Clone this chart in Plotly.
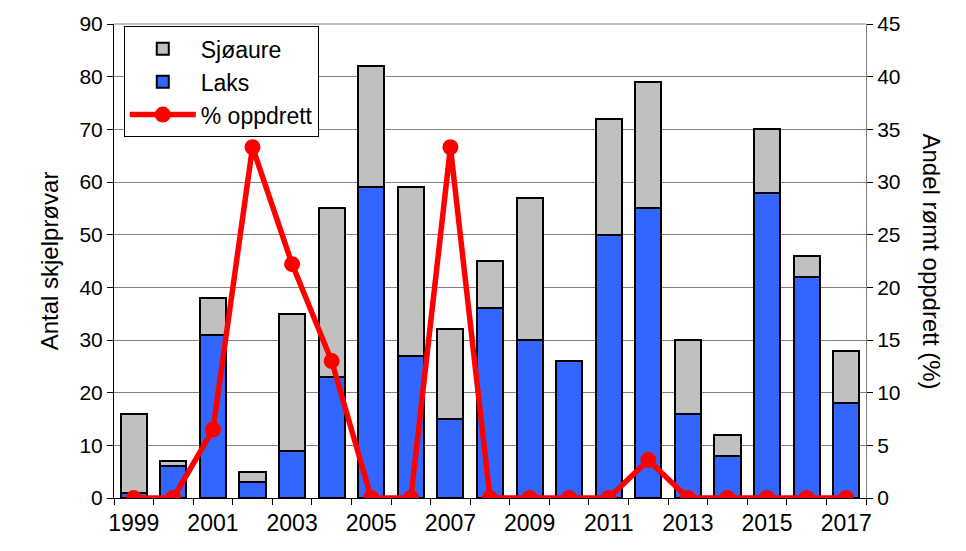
import plotly.graph_objects as go

years = list(range(1999, 2018))
laks = [1, 6, 31, 3, 9, 23, 59, 27, 15, 36, 30, 26, 50, 55, 16, 8, 58, 42, 18]
total = [16, 7, 38, 5, 35, 55, 82, 59, 32, 45, 57, 26, 72, 79, 30, 12, 70, 46, 28]
sjoaure = [t - l for t, l in zip(total, laks)]
oppdrett = [0, 0, 6.5, 33.3, 22.2, 13.0, 0, 0, 33.3, 0, 0, 0, 0, 3.6, 0, 0, 0, 0, 0]
xticks = list(range(1999, 2018, 2))
y1ticks = list(range(0, 91, 10))
y2ticks = list(range(0, 46, 5))

FONT = "Liberation Sans, Arial, sans-serif"

fig = go.Figure()
fig.add_trace(go.Bar(x=years, y=laks, name="Laks", legendrank=2,
                     marker=dict(color="#3366FF", line=dict(color="black", width=2)),
                     width=0.66))
fig.add_trace(go.Bar(x=years, y=sjoaure, name="Sjøaure", legendrank=1,
                     marker=dict(color="#C0C0C0", line=dict(color="black", width=2)),
                     width=0.66))
fig.add_trace(go.Scatter(x=years, y=oppdrett, name="% oppdrett", yaxis="y2", legendrank=3,
                         mode="lines+markers",
                         line=dict(color="#FF0000", width=5.5),
                         marker=dict(color="#FF0000", size=16)))

fig.update_layout(
    width=966, height=551,
    margin=dict(l=114, r=100, t=20, b=53),
    barmode="stack", bargap=0.34,
    plot_bgcolor="white", paper_bgcolor="white",
    font=dict(family=FONT, size=20, color="black"),
    showlegend=True,
    legend=dict(x=0.013, y=0.995, xanchor="left", yanchor="top", traceorder="normal",
                bgcolor="white", bordercolor="black", borderwidth=1,
                font=dict(size=23), tracegroupgap=0, itemwidth=66),
    xaxis=dict(range=[1998.5, 2017.5], tickvals=xticks, ticks="",
               showgrid=False, showline=True, linecolor="black", linewidth=1,
               tickfont=dict(size=23), ticklabelstandoff=4,
               minor=dict(tick0=1998.5, dtick=1, ticks="outside", ticklen=6,
                          tickcolor="black", showgrid=False)),
    yaxis=dict(range=[0, 90], tickvals=y1ticks, ticks="outside", ticklen=6,
               tickcolor="black", showline=True, linecolor="black", linewidth=1,
               showgrid=True, gridcolor="#808080", gridwidth=1,
               tickfont=dict(size=21),
               title=dict(text="Antal skjelprøvar", font=dict(size=24), standoff=14),
               zeroline=False),
    yaxis2=dict(range=[0, 45], tickvals=y2ticks, overlaying="y", side="right",
                ticks="outside", ticklen=6, tickcolor="black",
                showline=True, linecolor="#808080", linewidth=1,
                tickfont=dict(size=21),
                showgrid=False, zeroline=False),
    annotations=[dict(text="Andel rømt oppdrett (%)", textangle=90,
                      xref="paper", yref="paper", x=1.0, y=0.5,
                      xanchor="left", yanchor="middle", xshift=50,
                      showarrow=False, font=dict(size=24))],
    shapes=[dict(type="line", xref="paper", yref="paper", x0=0, x1=1, y0=1, y1=1,
                 line=dict(color="#808080", width=1))],
)

fig.write_html("out.html")
